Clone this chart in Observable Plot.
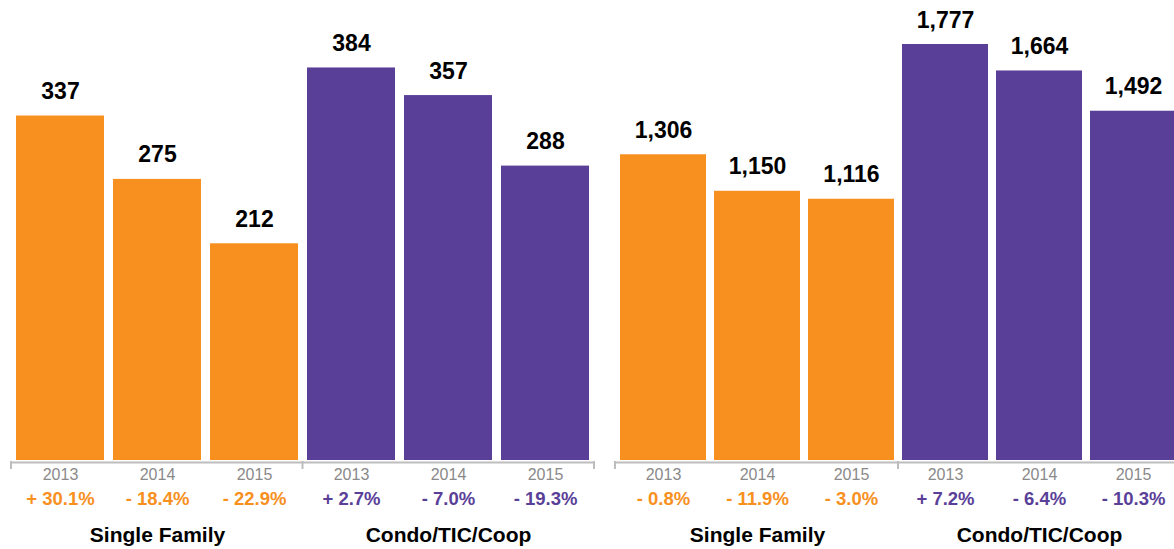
<!DOCTYPE html>
<html>
<head>
<meta charset="utf-8">
<script src="https://cdn.jsdelivr.net/npm/d3@7"></script>
<script src="https://cdn.jsdelivr.net/npm/@observablehq/plot@0.6"></script>
<style>
  html, body { margin: 0; padding: 0; background: #fff; overflow: hidden; }
  #wrap { position: relative; width: 1174px; height: 549px; overflow: hidden; }
  #left, #right { position: absolute; top: 0; height: 549px; }
  #left { left: 0; width: 600px; }
  #right { left: 600px; width: 580px; }
  svg { font-family: "Liberation Sans", Arial, Helvetica, sans-serif; max-width: none !important; }
</style>
</head>
<body>
<div id="wrap"><div id="left"></div><div id="right"></div></div>
<script>
const years = ["2013", "2014", "2015"];
const groups = ["Single Family", "Condo/TIC/Coop"];
const groupColors = ["#F7901E", "#5A3F99"];

const leftSF = [337, 275, 212];
const leftCondo = [384, 357, 288];
const leftSFChange = ["+ 30.1%", "- 18.4%", "- 22.9%"];
const leftCondoChange = ["+ 2.7%", "- 7.0%", "- 19.3%"];

const rightSF = [1306, 1150, 1116];
const rightCondo = [1777, 1664, 1492];
const rightSFChange = ["- 0.8%", "- 11.9%", "- 3.0%"];
const rightCondoChange = ["+ 7.2%", "- 6.4%", "- 10.3%"];

function rowsFor(sf, condo, sfChg, condoChg) {
  const rows = [];
  [[sf, sfChg], [condo, condoChg]].forEach(([vals, chg], gi) => {
    years.forEach((yr, i) => {
      rows.push({key: groups[gi] + "|" + yr, group: groups[gi], year: yr, value: vals[i], change: chg[i], color: groupColors[gi]});
    });
  });
  return rows;
}

const fmt = d3.format(",");

function panel(rows, opts) {
  const keys = rows.map(d => d.key);
  const groupRows = groups.map(g => ({key: g + "|2014", label: g}));
  const plot = Plot.plot({
    width: opts.width,
    height: 549,
    marginLeft: opts.marginLeft,
    marginRight: opts.marginRight,
    marginTop: 0,
    marginBottom: 89,
    style: {fontFamily: '"Liberation Sans", Arial, Helvetica, sans-serif', background: "#fff", overflow: "visible", maxWidth: "none"},
    x: {domain: keys, axis: null, paddingInner: 0.09, paddingOuter: 0.05},
    y: {domain: opts.yDomain, axis: null},
    marks: [
      Plot.barY(rows, {x: "key", y: "value", fill: d => d.color}),
      Plot.ruleY([0], {dy: 2, stroke: "#bdbdbd", strokeWidth: 2}),
      Plot.text(rows, {x: "key", y: "value", text: d => fmt(d.value), dy: -17, lineAnchor: "bottom", fontSize: 23, fontWeight: "bold", fill: "#000"}),
      Plot.text(rows, {x: "key", y: d => 0, text: "year", dy: 14, fontSize: 16, fill: "#8a8a8a"}),
      Plot.text(rows, {x: "key", y: d => 0, text: "change", dy: 39, fontSize: 18.5, fontWeight: "bold", fill: d => d.color}),
      Plot.text(groupRows, {x: "key", y: d => 0, text: "label", dy: 75, fontSize: 21, fontWeight: "bold", fill: "#000", letterSpacing: "0.2px"})
    ]
  });
  // bracket ticks under the baseline
  const xs = plot.scale("x");
  const ys = plot.scale("y");
  const step = xs.step != null ? xs.step : (xs.range[1] - xs.range[0]) / (keys.length - 0.09 + 0.1);
  const bw = xs.bandwidth != null ? xs.bandwidth : step * 0.91;
  const gap = (step - bw) / 2;
  const y0 = ys.apply(0) + 2;
  const tickXs = [xs.range[0], xs.apply(keys[3]) - gap, xs.range[1]];
  const svg = d3.select(plot);
  tickXs.forEach(x => {
    svg.append("line").attr("x1", x).attr("x2", x).attr("y1", y0 - 1).attr("y2", y0 + 7)
      .attr("stroke", "#bdbdbd").attr("stroke-width", 2);
  });
  return plot;
}

document.getElementById("left").append(panel(rowsFor(leftSF, leftCondo, leftSFChange, leftCondoChange), {width: 600, marginLeft: 11, marginRight: 6, yDomain: [0, 450]}));
document.getElementById("right").append(panel(rowsFor(rightSF, rightCondo, rightSFChange, rightCondoChange), {width: 580, marginLeft: 15, marginRight: 0, yDomain: [0, 1965]}));
</script>
</body>
</html>
